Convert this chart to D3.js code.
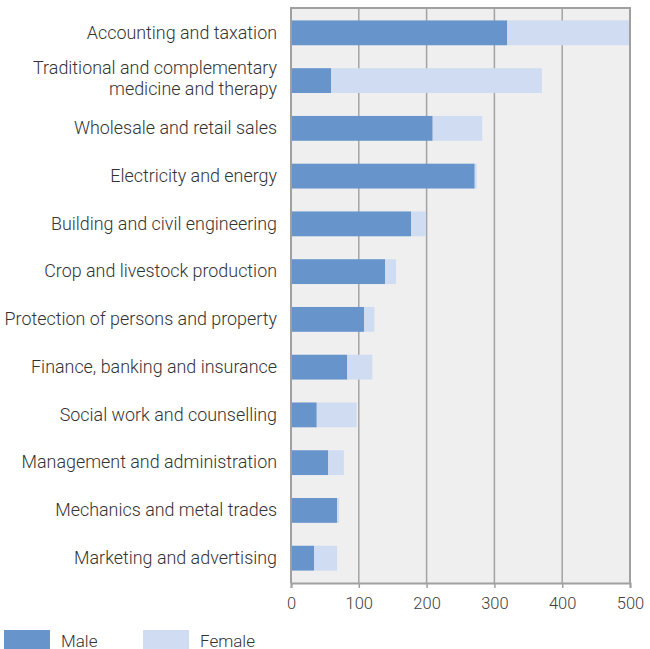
<!DOCTYPE html>
<html>
<head>
<meta charset="utf-8">
<script src="https://cdn.jsdelivr.net/npm/d3@7"></script>
<style>
  html, body { margin: 0; padding: 0; background: #fff; }
  svg { display: block; font-family: Roboto, "Noto Sans", sans-serif; }
</style>
</head>
<body>
<svg id="chart" width="650" height="649"></svg>
<script>
// Graduates by field of study, split by sex
const categories = [
  ["Accounting and taxation"],
  ["Traditional and complementary", "medicine and therapy"],
  ["Wholesale and retail sales"],
  ["Electricity and energy"],
  ["Building and civil engineering"],
  ["Crop and livestock production"],
  ["Protection of persons and property"],
  ["Finance, banking and insurance"],
  ["Social work and counselling"],
  ["Management and administration"],
  ["Mechanics and metal trades"],
  ["Marketing and advertising"]
];
const male   = [319, 59, 209, 271, 177, 139, 108, 83, 38, 55, 68, 34];
const female = [180, 311, 73, 3, 22, 16, 15, 37, 59, 23, 3, 34];
const seriesNames = ["Male", "Female"];
const xTicks = [0, 100, 200, 300, 400, 500];

const colors = { Male: "#6894cc", Female: "#d0dcf1" };

const margin = { top: 8, left: 291 };
const plotW = 630 - margin.left;
const plotH = 583 - margin.top;

const svg = d3.select("#chart");
const g = svg.append("g").attr("transform", `translate(${margin.left},${margin.top})`);

const keys = categories.map((c, i) => i);
const x = d3.scaleLinear().domain([0, 500]).range([0, plotW]);
const y = d3.scaleBand().domain(keys).range([0, plotH]).paddingInner(0.48).paddingOuter(0.26);

// plot background
g.append("rect")
  .attr("x", 0).attr("y", 0)
  .attr("width", plotW).attr("height", plotH)
  .attr("fill", "#efefef");

// vertical gridlines
g.selectAll("line.grid")
  .data(xTicks)
  .join("line")
  .attr("class", "grid")
  .attr("x1", d => x(d)).attr("x2", d => x(d))
  .attr("y1", 0).attr("y2", plotH)
  .attr("stroke", "#a3a3a3")
  .attr("stroke-width", 1.5);

// stacked bars
const rows = keys.map(i => ({ i, Male: male[i], Female: female[i] }));
const stacked = d3.stack().keys(seriesNames)(rows);

g.selectAll("g.series")
  .data(stacked)
  .join("g")
  .attr("class", "series")
  .attr("fill", d => colors[d.key])
  .selectAll("rect")
  .data(d => d)
  .join("rect")
  .attr("x", d => x(d[0]))
  .attr("width", d => x(d[1]) - x(d[0]))
  .attr("y", d => y(d.data.i))
  .attr("height", y.bandwidth());

// frame: left, top, right
g.append("path")
  .attr("d", `M0,${plotH}V0H${plotW}V${plotH}`)
  .attr("fill", "none")
  .attr("stroke", "#a0a0a0")
  .attr("stroke-width", 2);

// bottom axis
const xAxis = d3.axisBottom(x).tickValues(xTicks).tickSize(5);
const ax = g.append("g").attr("transform", `translate(0,${plotH})`).call(xAxis);
ax.select(".domain").attr("stroke", "#a0a0a0").attr("stroke-width", 2);
ax.selectAll(".tick line").attr("stroke", "#a0a0a0").attr("stroke-width", 1.5);
ax.selectAll(".tick text")
  .attr("y", 25.5)
  .attr("dy", 0)
  .attr("fill", "#404040")
  .style("font-size", "16.5px")
  .style("font-weight", 300)
  .style("font-family", "Roboto");

// category labels
const labels = g.append("g").attr("class", "labels");
const lineH = 21;
categories.forEach((lines, i) => {
  const cy = y(i) + y.bandwidth() / 2;
  const shift = lines.length > 1 ? -1.5 : 0;
  const t = labels.append("text")
    .attr("text-anchor", "end")
    .attr("fill", "#333")
    .style("font-size", "17.9px")
    .style("font-weight", 300);
  lines.forEach((line, k) => {
    t.append("tspan")
      .attr("x", -14)
      .attr("y", cy + 5.8 + shift + (k - (lines.length - 1) / 2) * lineH)
      .text(line);
  });
});

// legend
const legend = svg.append("g").attr("class", "legend");
const legendX = [4, 143];
seriesNames.forEach((name, k) => {
  const lg = legend.append("g").attr("transform", `translate(${legendX[k]},630)`);
  lg.append("rect").attr("width", 46).attr("height", 19).attr("fill", colors[name]);
  lg.append("text")
    .attr("x", 57).attr("y", 16.5)
    .attr("fill", "#333")
    .style("font-size", "17px")
    .style("font-weight", 300)
    .text(name);
});
</script>
</body>
</html>
